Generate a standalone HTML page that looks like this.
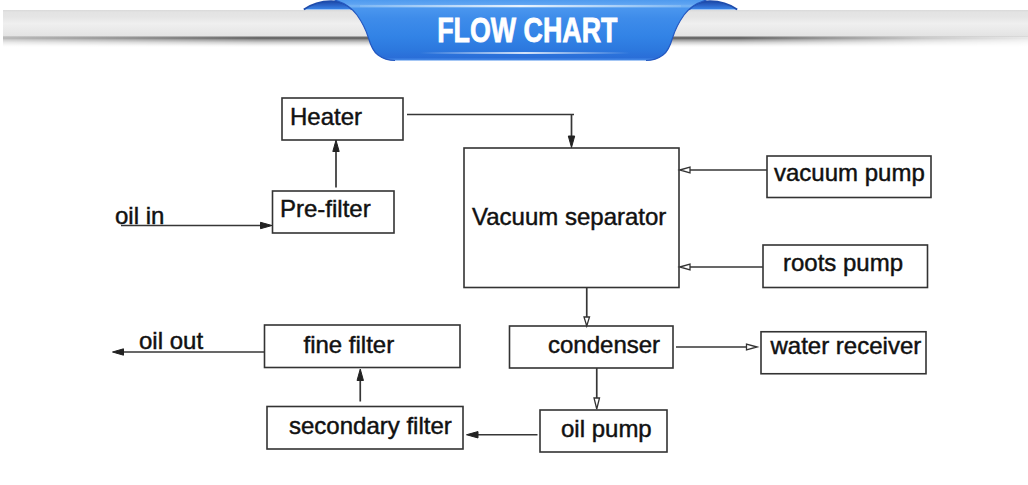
<!DOCTYPE html>
<html><head><meta charset="utf-8">
<style>
html,body{margin:0;padding:0;background:#fff;}
body{width:1028px;height:485px;overflow:hidden;position:relative;font-family:"Liberation Sans",sans-serif;}
svg{position:absolute;left:0;top:0;}
.t{font-family:"Liberation Sans",sans-serif;font-size:24px;fill:#111;stroke:#111;stroke-width:0.45;}
.b{fill:none;stroke:#333;stroke-width:1.6;}
.l{fill:none;stroke:#363636;stroke-width:1.7;}
.ah{fill:#222;stroke:#222;stroke-width:1;}
.ao{fill:#fff;stroke:#333;stroke-width:1.3;}
</style></head>
<body>
<svg width="1028" height="485" viewBox="0 0 1028 485">
<defs>
  <linearGradient id="bar" x1="0" y1="0" x2="0" y2="1">
    <stop offset="0" stop-color="#d9d9d9"/>
    <stop offset="0.08" stop-color="#e3e3e3"/>
    <stop offset="0.25" stop-color="#e5e5e5"/>
    <stop offset="0.5" stop-color="#efefef"/>
    <stop offset="0.75" stop-color="#e9e9e9"/>
    <stop offset="1" stop-color="#e2e2e2"/>
  </linearGradient>
  <linearGradient id="shad" x1="0" y1="0" x2="0" y2="1">
    <stop offset="0" stop-color="#d6d6d6"/>
    <stop offset="0.09" stop-color="#7a7a7a"/>
    <stop offset="0.19" stop-color="#5a5a5a"/>
    <stop offset="0.36" stop-color="#9c9c9c"/>
    <stop offset="0.6" stop-color="#d2d2d2"/>
    <stop offset="0.85" stop-color="#f4f4f4"/>
    <stop offset="1" stop-color="#ffffff"/>
  </linearGradient>
  <linearGradient id="blue" x1="0" y1="0" x2="0" y2="1">
    <stop offset="0" stop-color="#4f9aee"/>
    <stop offset="0.07" stop-color="#5ea4f2"/>
    <stop offset="0.1" stop-color="#7ab6f4"/>
    <stop offset="0.14" stop-color="#4a96ee"/>
    <stop offset="0.3" stop-color="#3e8cea"/>
    <stop offset="0.6" stop-color="#3283e6"/>
    <stop offset="0.82" stop-color="#2c78de"/>
    <stop offset="0.95" stop-color="#2a6ed8"/>
    <stop offset="1" stop-color="#4a8eea"/>
  </linearGradient>
  <linearGradient id="streak" x1="0" y1="0" x2="1" y2="0">
    <stop offset="0" stop-color="#ffffff" stop-opacity="0"/>
    <stop offset="0.5" stop-color="#ffffff" stop-opacity="0.8"/>
    <stop offset="1" stop-color="#ffffff" stop-opacity="0"/>
  </linearGradient>
  <linearGradient id="streak2" x1="0" y1="0" x2="1" y2="0">
    <stop offset="0" stop-color="#ffffff" stop-opacity="0.1"/>
    <stop offset="0.5" stop-color="#ffffff" stop-opacity="0.85"/>
    <stop offset="1" stop-color="#ffffff" stop-opacity="0.1"/>
  </linearGradient>
  <linearGradient id="curl" x1="0" y1="0" x2="0" y2="1">
    <stop offset="0" stop-color="#1d4aa8"/>
    <stop offset="0.45" stop-color="#2a62c6"/>
    <stop offset="1" stop-color="#3c88ea"/>
  </linearGradient>
  <linearGradient id="shmask" gradientUnits="userSpaceOnUse" x1="0" y1="0" x2="1028" y2="0">
    <stop offset="0" stop-color="#fff" stop-opacity="0.45"/>
    <stop offset="0.12" stop-color="#fff" stop-opacity="0.7"/>
    <stop offset="0.25" stop-color="#fff" stop-opacity="1"/>
    <stop offset="0.72" stop-color="#fff" stop-opacity="1"/>
    <stop offset="0.8" stop-color="#fff" stop-opacity="0.7"/>
    <stop offset="0.9" stop-color="#fff" stop-opacity="0.35"/>
    <stop offset="1" stop-color="#fff" stop-opacity="0.15"/>
  </linearGradient>
  <mask id="shm" maskUnits="userSpaceOnUse" x="0" y="0" width="1028" height="60">
    <rect x="0" y="0" width="1028" height="60" fill="url(#shmask)"/>
  </mask>
</defs>
<!-- gray bar -->
<rect x="3" y="10" width="1025" height="27" fill="url(#bar)"/>
<rect x="3" y="36" width="1025" height="11" fill="url(#shad)" mask="url(#shm)"/>
<!-- curls -->
<path d="M303.8 9.6 C311 4.5 321 1.2 331 1.2 C340 1.2 347 4 352 9.6 Z" fill="url(#curl)"/>
<path d="M303.8 9.6 C311 4.5 321 1.2 331 1.2 C340 1.2 347 4 352 9.6" fill="none" stroke="#1e4cac" stroke-width="1.8"/>
<path d="M737.2 9.6 C730 4.5 720 1.2 710 1.2 C701 1.2 694 4 689 9.6 Z" fill="url(#curl)"/>
<path d="M737.2 9.6 C730 4.5 720 1.2 710 1.2 C701 1.2 694 4 689 9.6" fill="none" stroke="#1e4cac" stroke-width="1.8"/>
<!-- ribbon body -->
<path d="M334.5 0.0 C345.0 3.0 352.0 8.0 357.0 15.0 C362.0 22.0 366.0 30.0 368.5 38.0 C370.5 45.0 373.0 51.5 378.0 55.0 C382.0 58.0 387.0 60.5 395.0 60.5 L646.0 60.5 C654.0 60.5 659.0 58.0 663.0 55.0 C668.0 51.5 670.5 45.0 672.5 38.0 C675.0 30.0 679.0 22.0 684.0 15.0 C689.0 8.0 696.0 3.0 706.5 0.0 Z" fill="url(#blue)"/>
<path d="M334.5 0.0 C345.0 3.0 352.0 8.0 357.0 15.0 C362.0 22.0 366.0 30.0 368.5 38.0 C370.5 45.0 373.0 51.5 378.0 55.0 C382.0 58.0 387.0 60.5 395.0 60.5" fill="none" stroke="#2458c0" stroke-width="1.2"/>
<path d="M646.0 60.5 C654.0 60.5 659.0 58.0 663.0 55.0 C668.0 51.5 670.5 45.0 672.5 38.0 C675.0 30.0 679.0 22.0 684.0 15.0 C689.0 8.0 696.0 3.0 706.5 0.0" fill="none" stroke="#2458c0" stroke-width="1.2"/>
<rect x="420" y="52" width="210" height="2" fill="url(#streak)"/>
<rect x="360" y="5" width="321" height="2.2" fill="url(#streak2)"/>
<text x="437" y="42.5" font-family="Liberation Sans" font-weight="bold" font-size="34.5" fill="#fff" stroke="#fff" stroke-width="0.8" transform="translate(438 0) scale(0.778 1) translate(-438 0)">FLOW CHART</text>

<!-- boxes -->
<rect class="b" x="282" y="98" width="121" height="42"/>
<rect class="b" x="272.5" y="191" width="121.5" height="42"/>
<rect class="b" x="464" y="148" width="215" height="139.5"/>
<rect class="b" x="767" y="156" width="164" height="41.5"/>
<rect class="b" x="763" y="245" width="164.5" height="42.5"/>
<rect class="b" x="264.5" y="325" width="195.5" height="42.5"/>
<rect class="b" x="267" y="406.5" width="196" height="42.5"/>
<rect class="b" x="509.5" y="326" width="163.5" height="42"/>
<rect class="b" x="540" y="410" width="127" height="42"/>
<rect class="b" x="761" y="331.75" width="165" height="42"/>

<!-- text -->
<text class="t" x="290" y="125">Heater</text>
<text class="t" x="280" y="217">Pre-filter</text>
<text class="t" x="472" y="224.5">Vacuum separator</text>
<text class="t" x="774" y="181">vacuum pump</text>
<text class="t" x="783" y="271">roots pump</text>
<text class="t" x="115" y="224">oil in</text>
<text class="t" x="139" y="348.75">oil out</text>
<text class="t" x="303.5" y="352.5">fine filter</text>
<text class="t" x="289" y="433.5">secondary filter</text>
<text class="t" x="548" y="352.5">condenser</text>
<text class="t" x="561" y="436.5">oil pump</text>
<text class="t" x="770.5" y="353.75">water receiver</text>

<!-- lines -->
<polyline class="l" points="407,114.5 574,114.5"/>
<line class="l" x1="571.5" y1="114.5" x2="571.5" y2="138"/>
<path class="ah" d="M568.3 136 L574.7 136 L571.5 147.5 Z"/>

<line class="l" x1="336" y1="187.5" x2="336" y2="148"/>
<path class="ah" d="M332.8 151.5 L339.2 151.5 L336 140.2 Z"/>

<line class="l" x1="121" y1="225.5" x2="263" y2="225.5"/>
<path class="ah" d="M260.5 222.3 L260.5 228.7 L272 225.5 Z"/>

<line class="l" x1="767" y1="170" x2="690" y2="170"/>
<path class="ao" d="M679.8 170 L690 167.2 L690 172.8 Z"/>

<line class="l" x1="763" y1="267" x2="690" y2="267"/>
<path class="ao" d="M679.8 267 L690 264.2 L690 269.8 Z"/>

<line class="l" x1="586.75" y1="287.5" x2="586.75" y2="318"/>
<path class="ao" d="M586.75 326 L584 317 L589.5 317 Z"/>

<line class="l" x1="676" y1="347" x2="746" y2="347"/>
<path class="ao" d="M757 347 L746.5 344.2 L746.5 349.8 Z"/>

<line class="l" x1="596.75" y1="368" x2="596.75" y2="398"/>
<path class="ao" d="M596.75 409 L594 398 L599.5 398 Z"/>

<line class="l" x1="537.5" y1="434.75" x2="475" y2="434.75"/>
<path class="ah" d="M478 431.55 L478 437.95 L466.5 434.75 Z"/>

<line class="l" x1="360.25" y1="401.5" x2="360.25" y2="378"/>
<path class="ah" d="M357.05 380.5 L363.45 380.5 L360.25 369 Z"/>

<line class="l" x1="265" y1="352" x2="121" y2="352"/>
<path class="ah" d="M123.5 348.8 L123.5 355.2 L112.5 352 Z"/>
</svg>
</body></html>
